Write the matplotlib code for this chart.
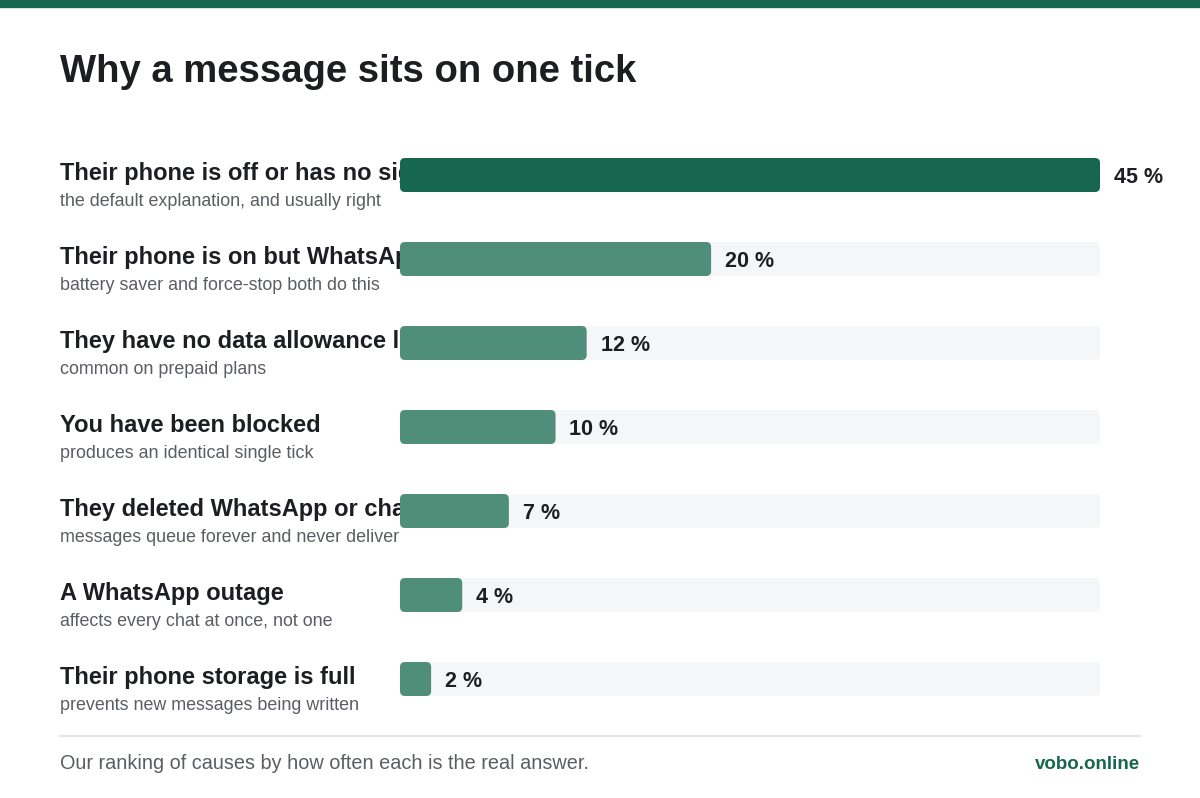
import matplotlib.pyplot as plt
from matplotlib.patches import FancyBboxPatch, Rectangle
from matplotlib import transforms

plt.rcParams['font.family'] = ['Liberation Sans', 'DejaVu Sans']

# chart data
causes = [
    "Their phone is off or has no signal",
    "Their phone is on but WhatsApp is asleep",
    "They have no data allowance left",
    "You have been blocked",
    "They deleted WhatsApp or changed SIM",
    "A WhatsApp outage",
    "Their phone storage is full",
]
notes = [
    "the default explanation, and usually right",
    "battery saver and force-stop both do this",
    "common on prepaid plans",
    "produces an identical single tick",
    "messages queue forever and never deliver",
    "affects every chat at once, not one",
    "prevents new messages being written",
]
shares = [45, 20, 12, 10, 7, 4, 2]

title = "Why a message sits on one tick"
footnote = "Our ranking of causes by how often each is the real answer."
source = "vobo.online"

dark_green = '#17674f'
mid_green = '#4f8f7a'
track_color = '#f5f6f8'
ink = '#1c1e21'
grey = '#5a5d62'

W, H = 1200, 798
fig = plt.figure(figsize=(W / 100, H / 100), dpi=100)
fig.patch.set_facecolor('white')

# top stripe
fig.patches.append(Rectangle((0, 1 - 7 / H), 1, 7 / H, transform=fig.transFigure,
                             color=dark_green, zorder=5))

fig.text(60 / W, 1 - 82 / H, title, fontsize=27.5, fontweight='bold', color=ink,
         va='baseline', ha='left')

# bar axes
n = len(shares)
row_h = 84
top = 133
ax = fig.add_axes([400 / W, 1 - (top + n * row_h) / H, 700 / W, n * row_h / H])
ax.set_facecolor('none')
xmax = max(shares)
ax.set_xlim(0, xmax)
ax.set_ylim(n - 0.5, -0.5)
ax.axis('off')

bar_h = 34 / row_h
aspect = (700 / xmax) / row_h  # px per x unit / px per y unit
rad = 5 / (700 / xmax)

ypos = list(range(n))
tracks = ax.barh(ypos, [xmax] * n, height=bar_h, color=track_color)
bars = ax.barh(ypos, shares, height=bar_h, color=mid_green)

# swap plain rectangles for rounded ones
for group, colors in ((tracks, [track_color] * n),
                      (bars, [dark_green] + [mid_green] * (n - 1))):
    for p, c in zip(group.patches, colors):
        p.set_visible(False)
        rb = FancyBboxPatch((p.get_x(), p.get_y()), p.get_width(), p.get_height(),
                            boxstyle=f"round,pad=0,rounding_size={rad}",
                            mutation_aspect=aspect, facecolor=c, edgecolor='none')
        ax.add_patch(rb)

for y, v in zip(ypos, shares):
    ax.annotate(f"{v} %", (v, y), xytext=(10, -5.8), textcoords='offset points',
                va='baseline', ha='left', fontsize=15.5, fontweight='bold', color=ink)

# row labels sit under the bar axes so the tracks cut them off
lab_tr = transforms.blended_transform_factory(fig.transFigure, ax.transData)
clip = Rectangle((0, 0), 400 / W, 1, transform=fig.transFigure)
for y, c, s in zip(ypos, causes, notes):
    t1 = fig.text(60 / W, y + 5 / row_h, c, transform=lab_tr, fontsize=17,
                  fontweight='bold', color=ink, va='baseline', ha='left', zorder=-1)
    t1.set_clip_path(clip)
    fig.text(60 / W, y + 31 / row_h, s, transform=lab_tr, fontsize=12.9,
             color=grey, va='baseline', ha='left', zorder=-1)

# footer
fig.add_artist(plt.Line2D([60 / W, 1140 / W], [1 - 736 / H, 1 - 736 / H],
                          transform=fig.transFigure, color='#e6e7e9', lw=1.5))
fig.text(60 / W, 1 - 769 / H, footnote, fontsize=14.3, color=grey,
         va='baseline', ha='left')
fig.text(1140 / W, 1 - 769 / H, source, fontsize=13.5, fontweight='bold',
         color=dark_green, va='baseline', ha='right')

fig.savefig('out.png', dpi=100, facecolor='white')
